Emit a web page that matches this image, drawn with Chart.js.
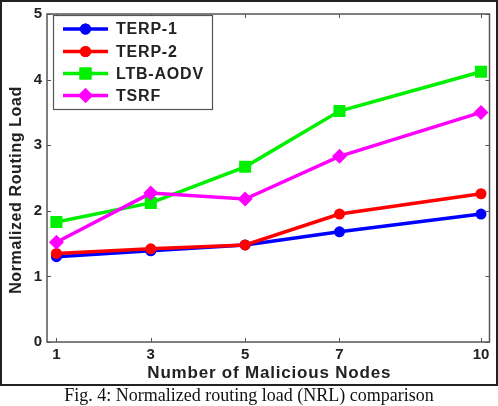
<!DOCTYPE html>
<html><head><meta charset="utf-8">
<script src="https://cdn.jsdelivr.net/npm/chart.js@4/dist/chart.umd.min.js"></script>
<style>
html,body{margin:0;padding:0;background:#fff;}
#wrap{position:relative;width:498px;height:406px;}
#c{position:absolute;left:0;top:0;}
#cap{position:absolute;left:0;top:385px;width:498px;text-align:center;font-family:"Liberation Serif","Times New Roman",serif;font-size:18px;color:#111;line-height:21px;}
</style></head><body>
<div id="wrap"><canvas id="c" width="498" height="386"></canvas>
<div id="cap">Fig. 4: Normalized routing load (NRL) comparison</div></div>
<script>
const xTicks = [1, 3, 5, 7, 10];
const yTicks = [0, 1, 2, 3, 4, 5];
const seriesNames = ['TERP-1', 'TERP-2', 'LTB-AODV', 'TSRF'];
const terp1 = [1.30, 1.39, 1.48, 1.68, 1.95];
const terp2 = [1.35, 1.42, 1.48, 1.95, 2.26];
const ltbAodv = [1.83, 2.12, 2.67, 3.52, 4.12];
const tsrf = [1.52, 2.27, 2.18, 2.83, 3.50];
const xTitle = 'Number of Malicious Nodes';
const yTitle = 'Normalized Routing Load';

const colors = ['#0000ff', '#ff0000', '#00f000', '#ff00ff'];
const styles = ['circle', 'circle', 'rect', 'rectRot'];
const radii = [5.5, 5.5, 8.5, 7.5];
const allVals = [terp1, terp2, ltbAodv, tsrf];

const datasets = allVals.map((vals, i) => ({
  label: seriesNames[i],
  data: vals.map((v, k) => ({x: xTicks[k], y: v})),
  borderColor: colors[i],
  backgroundColor: colors[i],
  borderWidth: 3.5,
  pointStyle: styles[i],
  pointRadius: radii[i],
  pointBorderWidth: 0,
  pointBackgroundColor: colors[i],
  tension: 0,
  order: 3 - i
}));

const FONT = '"Liberation Sans", Arial, sans-serif';

const framePlugin = {
  id: 'frame',
  afterDraw(chart) {
    const ctx = chart.ctx;
    const a = chart.chartArea;
    const xs = chart.scales.x, ys = chart.scales.y;
    ctx.save();
    ctx.strokeStyle = '#555';
    ctx.lineWidth = 1.5;
    ctx.strokeRect(a.left, a.top, a.right - a.left, a.bottom - a.top);
    ctx.lineWidth = 1;
    xTicks.forEach(t => {
      const px = Math.round(xs.getPixelForValue(t)) + 0.5;
      ctx.beginPath();
      ctx.moveTo(px, a.bottom); ctx.lineTo(px, a.bottom - 4);
      ctx.moveTo(px, a.top); ctx.lineTo(px, a.top + 4);
      ctx.stroke();
    });
    yTicks.forEach(t => {
      const py = Math.round(ys.getPixelForValue(t)) + 0.5;
      ctx.beginPath();
      ctx.moveTo(a.left, py); ctx.lineTo(a.left + 4, py);
      ctx.moveTo(a.right, py); ctx.lineTo(a.right - 4, py);
      ctx.stroke();
    });
    // axis titles
    ctx.fillStyle = '#222';
    ctx.textAlign = 'center';
    ctx.textBaseline = 'middle';
    ctx.font = 'bold 17px ' + FONT;
    ctx.letterSpacing = '0.8px';
    ctx.fillText(xTitle, (a.left + a.right) / 2 + 1, 373);
    ctx.save();
    ctx.translate(17, 190);
    ctx.rotate(-Math.PI / 2);
    ctx.font = 'bold 16px ' + FONT;
    ctx.letterSpacing = '0.6px';
    ctx.fillText(yTitle, 0, 0);
    ctx.restore();
    // legend
    const lx = 53, ly = 15, lw = 159, lh = 94;
    ctx.fillStyle = '#fff';
    ctx.fillRect(lx, ly, lw, lh);
    ctx.strokeStyle = '#555';
    ctx.lineWidth = 1.2;
    ctx.strokeRect(lx + 0.5, ly + 0.5, lw, lh);
    const rowY = [29, 51.5, 73.5, 95.5];
    chart.data.datasets.forEach((ds, i) => {
      const y = rowY[i];
      ctx.strokeStyle = ds.borderColor;
      ctx.lineWidth = 3.5;
      ctx.beginPath();
      ctx.moveTo(63, y); ctx.lineTo(108, y);
      ctx.stroke();
      ctx.fillStyle = ds.borderColor;
      Chart.helpers.drawPoint(ctx, {pointStyle: ds.pointStyle, radius: ds.pointRadius, borderWidth: 0}, 85.5, y);
      ctx.fill();
      ctx.fillStyle = '#222';
      ctx.font = 'bold 16px ' + FONT;
      ctx.letterSpacing = '0.8px';
      ctx.textAlign = 'left';
      ctx.textBaseline = 'middle';
      ctx.fillText(ds.label, 116, y + 1);
    });
    ctx.letterSpacing = '0px';
    ctx.strokeStyle = '#222';
    ctx.lineWidth = 2;
    ctx.strokeRect(1, 1, 496, 384);
    ctx.restore();
  }
};

new Chart(document.getElementById('c'), {
  type: 'line',
  data: {datasets},
  options: {
    responsive: false,
    animation: false,
    layout: {padding: {top: 14, right: 6, left: 0, bottom: 0}},
    plugins: {legend: {display: false}, tooltip: {enabled: false}},
    scales: {
      x: {
        type: 'linear', min: 0.8, max: 10.18,
        afterBuildTicks: s => { s.ticks = xTicks.map(v => ({value: v})); },
        afterFit: s => { s.height = 44; },
        grid: {display: false, drawTicks: false},
        border: {display: false},
        ticks: {padding: 4, color: '#222', font: {family: FONT, size: 15, weight: 'bold'}, maxRotation: 0,
                callback: v => String(v)}
      },
      y: {
        type: 'linear', min: 0, max: 5,
        afterBuildTicks: s => { s.ticks = yTicks.map(v => ({value: v})); },
        afterFit: s => { s.width = 47; },
        grid: {display: false, drawTicks: false},
        border: {display: false},
        ticks: {padding: 5, color: '#222', font: {family: FONT, size: 15, weight: 'bold'}}
      }
    }
  },
  plugins: [framePlugin]
});
</script>
</body></html>
